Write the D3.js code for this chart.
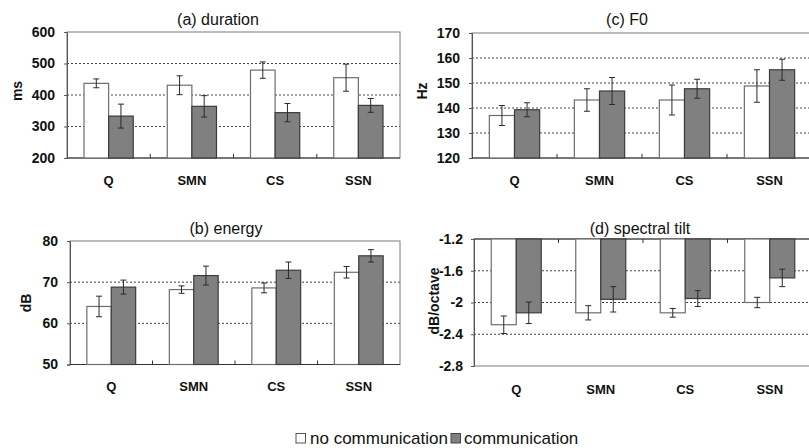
<!DOCTYPE html>
<html>
<head>
<meta charset="utf-8">
<script src="https://cdn.jsdelivr.net/npm/d3@7"></script>
<style>
  html, body { margin: 0; padding: 0; background: #fff; }
  svg { display: block; font-family: "Liberation Sans", Arial, sans-serif; }
</style>
</head>
<body>
<svg id="chart" width="809" height="448"></svg>
<script>
// ---------- data ----------
const categories = ["Q", "SMN", "CS", "SSN"];
const seriesNames = ["no communication", "communication"];

const durationNoComm = [437, 431, 479, 455];
const durationNoCommErr = [14, 30, 26, 43];
const durationComm = [333, 364, 344, 367];
const durationCommErr = [38, 34, 29, 22];
const durationTicks = [200, 300, 400, 500, 600];

const energyNoComm = [64.1, 68.2, 68.6, 72.4];
const energyNoCommErr = [2.5, 0.9, 1.2, 1.4];
const energyComm = [68.8, 71.6, 72.9, 76.4];
const energyCommErr = [1.7, 2.3, 2.0, 1.5];
const energyTicks = [50, 60, 70, 80];

const f0NoComm = [137.0, 143.2, 143.2, 148.8];
const f0NoCommErr = [4.0, 4.5, 6.0, 6.5];
const f0Comm = [139.3, 146.8, 147.7, 155.3];
const f0CommErr = [2.8, 5.4, 3.8, 4.2];
const f0Ticks = [120, 130, 140, 150, 160, 170];

const tiltNoComm = [-2.28, -2.13, -2.13, -2.0];
const tiltNoCommErr = [0.11, 0.09, 0.055, 0.065];
const tiltComm = [-2.13, -1.96, -1.95, -1.69];
const tiltCommErr = [0.135, 0.16, 0.10, 0.11];
const tiltTicks = [-2.8, -2.4, -2.0, -1.6, -1.2];

// ---------- panels (layout) ----------
const panels = [
  { title: "(a) duration", yLabel: "ms", v0: durationNoComm, e0: durationNoCommErr, v1: durationComm, e1: durationCommErr,
    ticks: durationTicks, left: 67, right: 400, top: 32, bottom: 158, base: "min",
    titleX: 218, titleY: 25, catY: 185, labelX: 17, labelY: 91, tickRight: 55 },
  { title: "(b) energy", yLabel: "dB", v0: energyNoComm, e0: energyNoCommErr, v1: energyComm, e1: energyCommErr,
    ticks: energyTicks, left: 70, right: 400, top: 241, bottom: 364.5, base: "min",
    titleX: 226, titleY: 234, catY: 391, labelX: 26, labelY: 303, tickRight: 58 },
  { title: "(c) F0", yLabel: "Hz", v0: f0NoComm, e0: f0NoCommErr, v1: f0Comm, e1: f0CommErr,
    ticks: f0Ticks, left: 472, right: 812, top: 33, bottom: 158, base: "min",
    titleX: 627, titleY: 25, catY: 185, labelX: 422, labelY: 91, tickRight: 460 },
  { title: "(d) spectral tilt", yLabel: "dB/octave", v0: tiltNoComm, e0: tiltNoCommErr, v1: tiltComm, e1: tiltCommErr,
    ticks: tiltTicks, left: 474, right: 812, top: 239, bottom: 366, base: "max",
    titleX: 640, titleY: 234, catY: 394, labelX: 434, labelY: 301, tickRight: 463 }
];

const svg = d3.select("#chart");
const fmt = d => String(+d.toFixed(1));

panels.forEach(p => {
  const g = svg.append("g");
  const dom = d3.extent(p.ticks);
  const y = d3.scaleLinear().domain(dom).range([p.bottom, p.top]);
  const x = d3.scaleBand().domain(categories).range([p.left, p.right]).paddingInner(0).paddingOuter(0);
  const sub = d3.scaleBand().domain([0, 1]).range([0, x.bandwidth()]).paddingOuter(0.69).paddingInner(0);
  const baseVal = p.base === "min" ? dom[0] : dom[1];
  const axisVal = baseVal;

  // gridlines (interior ticks)
  g.selectAll(".grid").data(p.ticks.filter(t => t !== dom[0] && t !== dom[1]))
    .join("line")
    .attr("x1", p.left).attr("x2", p.right)
    .attr("y1", d => y(d)).attr("y2", d => y(d))
    .attr("stroke", "#444").attr("stroke-width", 1).attr("stroke-dasharray", "2,2");

  // frame
  g.append("rect")
    .attr("x", p.left).attr("y", p.top)
    .attr("width", p.right - p.left).attr("height", p.bottom - p.top)
    .attr("fill", "none").attr("stroke", "#7a7a7a").attr("stroke-width", 1);

  // y axis
  const yAxis = d3.axisLeft(y).tickValues(p.ticks).tickFormat(fmt).tickSize(3).tickPadding(p.left - 3 - p.tickRight);
  const ya = g.append("g").attr("transform", `translate(${p.left},0)`).call(yAxis);
  ya.select(".domain").attr("stroke", "#555");
  ya.selectAll(".tick line").attr("stroke", "#555");
  ya.selectAll("text").attr("font-size", 14).attr("font-weight", "bold").attr("fill", "#111")
    .attr("font-family", "'Liberation Sans', Arial, sans-serif");

  // category axis line (at baseline)
  const ay = y(axisVal);
  g.append("line").attr("x1", p.left).attr("x2", p.right).attr("y1", ay).attr("y2", ay)
    .attr("stroke", "#333").attr("stroke-width", 1.2);
  const dir = p.base === "min" ? -1 : 1;
  g.selectAll(".ctick").data(categories.slice(1))
    .join("line")
    .attr("x1", d => x(d)).attr("x2", d => x(d))
    .attr("y1", ay).attr("y2", ay + dir * 4)
    .attr("stroke", "#333");

  // category labels
  g.selectAll(".clabel").data(categories)
    .join("text")
    .attr("x", d => x(d) + x.bandwidth() / 2)
    .attr("y", p.catY)
    .attr("text-anchor", "middle")
    .attr("font-size", 13).attr("font-weight", "bold").attr("fill", "#111")
    .text(d => d);

  // bars
  const series = [
    { vals: p.v0, errs: p.e0, fill: "#ffffff", stroke: "#6e6e6e", idx: 0 },
    { vals: p.v1, errs: p.e1, fill: "#808080", stroke: "#3c3c3c", idx: 1 }
  ];
  series.forEach(s => {
    const data = categories.map((c, i) => ({ c, v: s.vals[i], e: s.errs[i] }));
    g.selectAll(".bar" + s.idx).data(data)
      .join("rect")
      .attr("x", d => x(d.c) + sub(s.idx))
      .attr("width", sub.bandwidth())
      .attr("y", d => Math.min(y(d.v), y(baseVal)))
      .attr("height", d => Math.abs(y(d.v) - y(baseVal)))
      .attr("fill", s.fill).attr("stroke", s.stroke).attr("stroke-width", 1.2);
  });
  // error bars
  series.forEach(s => {
    const data = categories.map((c, i) => ({ c, v: s.vals[i], e: s.errs[i] }));
    const eg = g.selectAll(".err" + s.idx).data(data).join("g")
      .attr("transform", d => `translate(${x(d.c) + sub(s.idx) + sub.bandwidth() / 2},0)`);
    const col = "#2a2a2a";
    eg.append("line").attr("x1", 0).attr("x2", 0)
      .attr("y1", d => y(d.v + d.e)).attr("y2", d => y(d.v - d.e))
      .attr("stroke", col).attr("stroke-width", 1);
    eg.append("line").attr("x1", -3).attr("x2", 3)
      .attr("y1", d => y(d.v + d.e)).attr("y2", d => y(d.v + d.e))
      .attr("stroke", col).attr("stroke-width", 1);
    eg.append("line").attr("x1", -3).attr("x2", 3)
      .attr("y1", d => y(d.v - d.e)).attr("y2", d => y(d.v - d.e))
      .attr("stroke", col).attr("stroke-width", 1);
  });

  // title
  g.append("text").attr("x", p.titleX).attr("y", p.titleY)
    .attr("text-anchor", "middle").attr("font-size", 16).attr("fill", "#111")
    .text(p.title);

  // y label
  g.append("text")
    .attr("transform", `translate(${p.labelX},${p.labelY}) rotate(-90)`)
    .attr("text-anchor", "middle").attr("dominant-baseline", "central")
    .attr("font-size", 14).attr("font-weight", "bold").attr("fill", "#111")
    .text(p.yLabel);
});

// legend
const legendItems = [
  { name: seriesNames[0], fill: "#ffffff", stroke: "#555", boxX: 296, textX: 310 },
  { name: seriesNames[1], fill: "#808080", stroke: "#444", boxX: 451, textX: 464 }
];
const lg = svg.append("g");
legendItems.forEach(it => {
  lg.append("rect").attr("x", it.boxX).attr("y", 433.5).attr("width", 9.5).attr("height", 9.5)
    .attr("fill", it.fill).attr("stroke", it.stroke).attr("stroke-width", 1);
  lg.append("text").attr("x", it.textX).attr("y", 443.5)
    .attr("font-size", 17).attr("fill", "#111").text(it.name);
});
</script>
</body>
</html>
